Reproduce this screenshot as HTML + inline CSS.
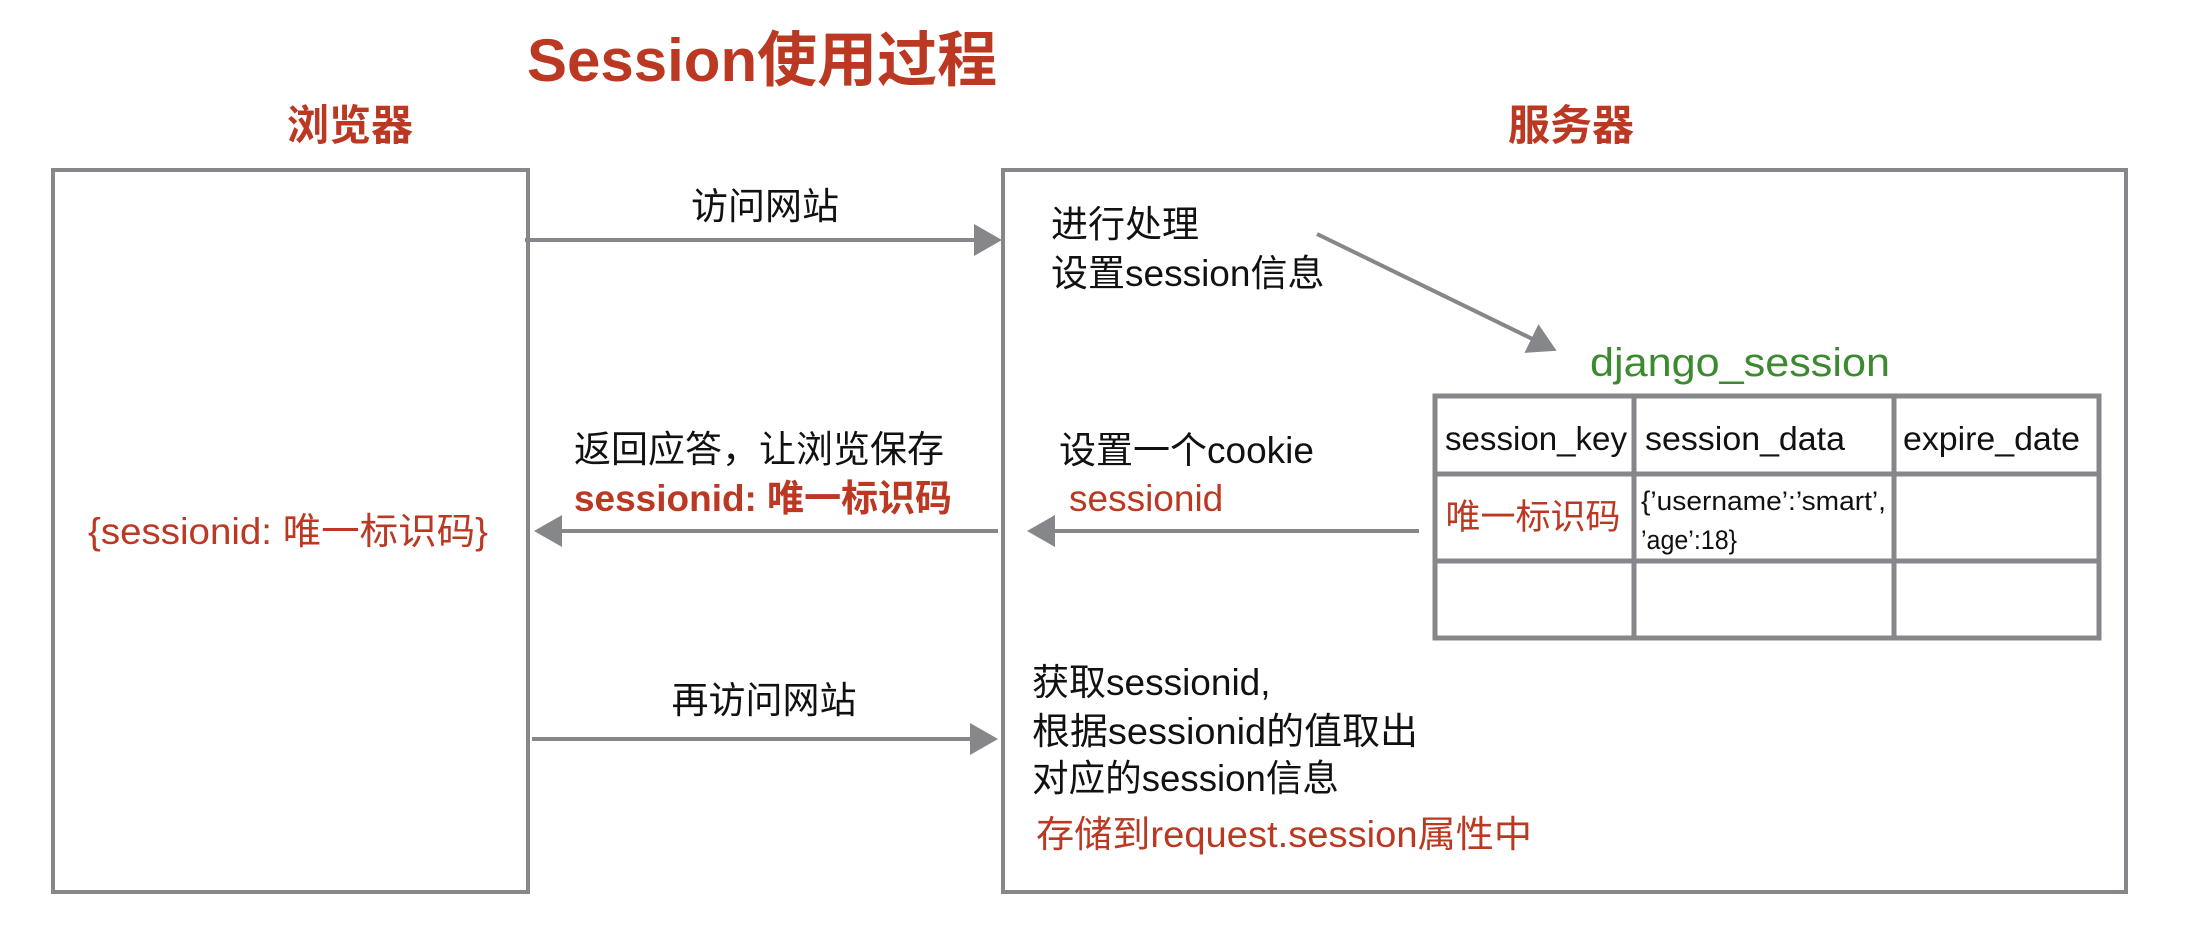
<!DOCTYPE html>
<html><head><meta charset="utf-8"><style>
html,body{margin:0;padding:0;background:#fff;}
svg{display:block;}
text{font-family:"Liberation Sans","Noto Sans CJK SC",sans-serif;}
</style></head><body>
<svg width="2186" height="930" viewBox="0 0 2186 930" xmlns="http://www.w3.org/2000/svg">
<defs>
<marker id="ah" markerWidth="8" markerHeight="8" refX="6" refY="4" orient="auto" markerUnits="strokeWidth">
<path d="M0,0 L7,4 L0,8 Z" fill="#86878b"/></marker>
</defs>
<g font-size="37" fill="#111">
<text x="527" y="81" font-size="60" font-weight="bold" fill="#bb3822">Session使用过程</text>
<text x="350" y="140" font-size="42" font-weight="bold" fill="#bb3822" text-anchor="middle">浏览器</text>
<text x="1571" y="140" font-size="42" font-weight="bold" fill="#bb3822" text-anchor="middle">服务器</text>

<rect x="53" y="170" width="475" height="722" fill="none" stroke="#86878b" stroke-width="4"/>
<rect x="1003" y="170" width="1123" height="722" fill="none" stroke="#86878b" stroke-width="4"/>

<line x1="525" y1="240" x2="998" y2="240" stroke="#86878b" stroke-width="4" marker-end="url(#ah)"/>
<text x="765" y="219" text-anchor="middle">访问网站</text>

<line x1="998" y1="531" x2="538" y2="531" stroke="#86878b" stroke-width="4" marker-end="url(#ah)"/>
<text x="574" y="462">返回应答，让浏览保存</text>
<text x="574" y="511" font-weight="bold" fill="#bb3822" textLength="378" lengthAdjust="spacingAndGlyphs">sessionid: 唯一标识码</text>
<text x="288" y="544" text-anchor="middle" fill="#bb3822" textLength="400" lengthAdjust="spacingAndGlyphs">{sessionid: 唯一标识码}</text>

<line x1="532" y1="739" x2="994" y2="739" stroke="#86878b" stroke-width="4" marker-end="url(#ah)"/>
<text x="764" y="713" text-anchor="middle">再访问网站</text>

<text x="1051" y="237">进行处理</text>
<text x="1051" y="286">设置session信息</text>
<line x1="1317" y1="234" x2="1553" y2="349" stroke="#86878b" stroke-width="4" marker-end="url(#ah)"/>

<text x="1590" y="376" font-size="40" fill="#3b8a2f" textLength="300" lengthAdjust="spacingAndGlyphs">django_session</text>

<g stroke="#86878b" stroke-width="5" fill="none">
<rect x="1435" y="396" width="664" height="242"/>
<line x1="1634" y1="396" x2="1634" y2="638"/>
<line x1="1894" y1="396" x2="1894" y2="638"/>
<line x1="1435" y1="474" x2="2099" y2="474"/>
<line x1="1435" y1="561" x2="2099" y2="561"/>
</g>
<text x="1445" y="450" font-size="33" textLength="182" lengthAdjust="spacingAndGlyphs">session_key</text>
<text x="1645" y="450" font-size="33" textLength="200" lengthAdjust="spacingAndGlyphs">session_data</text>
<text x="1903" y="450" font-size="33" textLength="177" lengthAdjust="spacingAndGlyphs">expire_date</text>
<text x="1533" y="529" fill="#bb3822" text-anchor="middle" font-size="35">唯一标识码</text>
<text x="1641" y="510" font-size="27" textLength="245" lengthAdjust="spacingAndGlyphs">{’username’:’smart’,</text>
<text x="1641" y="549" font-size="27" textLength="96" lengthAdjust="spacingAndGlyphs">’age’:18}</text>

<text x="1059" y="463">设置一个cookie</text>
<text x="1069" y="511" fill="#bb3822">sessionid</text>
<line x1="1419" y1="531" x2="1031" y2="531" stroke="#86878b" stroke-width="4" marker-end="url(#ah)"/>

<text x="1032" y="695">获取sessionid,</text>
<text x="1032" y="744" textLength="386" lengthAdjust="spacingAndGlyphs">根据sessionid的值取出</text>
<text x="1032" y="791" textLength="307" lengthAdjust="spacingAndGlyphs">对应的session信息</text>
<text x="1036" y="847" fill="#bb3822" textLength="496" lengthAdjust="spacingAndGlyphs">存储到request.session属性中</text>
</g>
</svg>
</body></html>
